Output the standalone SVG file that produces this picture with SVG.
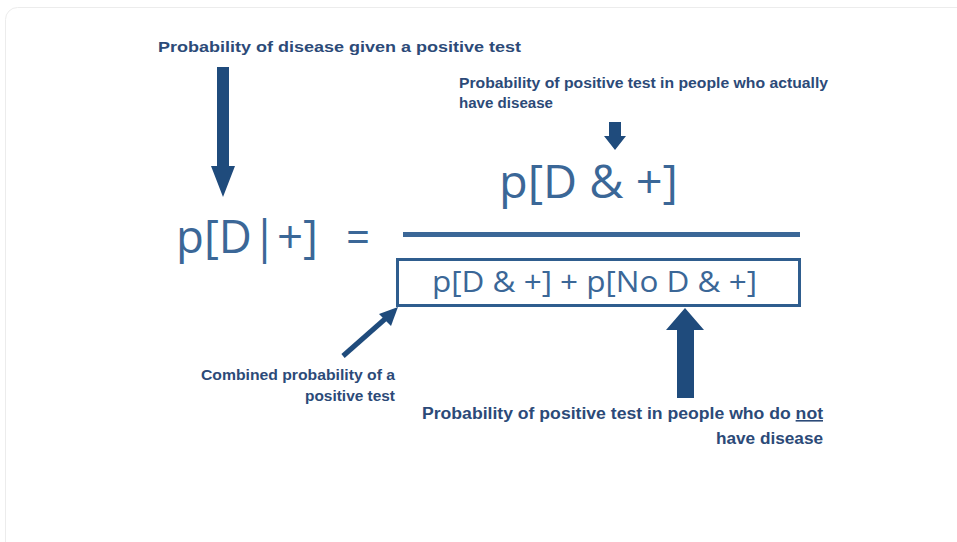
<svg xmlns="http://www.w3.org/2000/svg" width="957" height="542" viewBox="0 0 957 542">
<style>
.lbl{font-family:"Liberation Sans",Arial,sans-serif;font-weight:bold;fill:#2c4a78;}
.f{font-family:"Open Sans","Liberation Sans",sans-serif;fill:#3b6797;}
.arr{fill:#1f4b7c;}
</style>
<rect x="0" y="0" width="957" height="542" fill="#ffffff"/>
<rect x="5.5" y="7.5" width="980" height="560" rx="12" fill="#ffffff" stroke="#ececec" stroke-width="1"/>
<g id="label-top">
<text class="lbl" x="158" y="52" font-size="15" textLength="363" lengthAdjust="spacingAndGlyphs">Probability of disease given a positive test</text>
</g>
<g id="label-numerator">
<text class="lbl" x="459" y="88" font-size="14.5" textLength="369" lengthAdjust="spacingAndGlyphs">Probability of positive test in people who actually</text>
<text class="lbl" x="459" y="108" font-size="14.5" textLength="94" lengthAdjust="spacingAndGlyphs">have disease</text>
</g>
<g id="lhs">
<text class="f" x="176" y="253" font-size="46" textLength="142" lengthAdjust="spacingAndGlyphs">p[D|+]</text>
<text class="f" x="346" y="253" font-size="46" textLength="24" lengthAdjust="spacingAndGlyphs">=</text>
</g>
<g id="numerator">
<text class="f" x="499" y="198" font-size="46" textLength="179" lengthAdjust="spacingAndGlyphs">p[D &amp; +]</text>
</g>
<g id="fraction-line">
<rect x="403" y="232" width="397" height="5" fill="#3b6797"/>
</g>
<g id="denominator">
<rect x="397.5" y="259.5" width="402" height="46" fill="none" stroke="#2f5d8e" stroke-width="3"/>
<text class="f" x="432" y="292" font-size="30" textLength="325" lengthAdjust="spacingAndGlyphs">p[D &amp; +] + p[No D &amp; +]</text>
</g>
<g id="label-combined">
<text class="lbl" x="395" y="380" font-size="15" text-anchor="end" textLength="194" lengthAdjust="spacingAndGlyphs">Combined probability of a</text>
<text class="lbl" x="395" y="401" font-size="15" text-anchor="end" textLength="90" lengthAdjust="spacingAndGlyphs">positive test</text>
</g>
<g id="label-not">
<text class="lbl" x="823" y="419" font-size="16" text-anchor="end" textLength="401" lengthAdjust="spacingAndGlyphs">Probability of positive test in people who do <tspan text-decoration="underline">not</tspan></text>
<text class="lbl" x="823" y="444" font-size="16" text-anchor="end" textLength="107" lengthAdjust="spacingAndGlyphs">have disease</text>
</g>
<g id="connectors">
<polygon class="arr" points="217,67 229,67 229,166 235,166 223,197 211,166 217,166"/>
<polygon class="arr" points="609,122 621,122 621,136 626,136 615,150 604,136 609,136"/>
<polygon class="arr" points="677,398 694,398 694,330 704,330 685,308 666,330 677,330"/>
<line x1="343" y1="356" x2="385" y2="319" stroke="#1f4b7c" stroke-width="5"/>
<polygon class="arr" points="398,307 379,314 391,326"/>
</g>
</svg>
